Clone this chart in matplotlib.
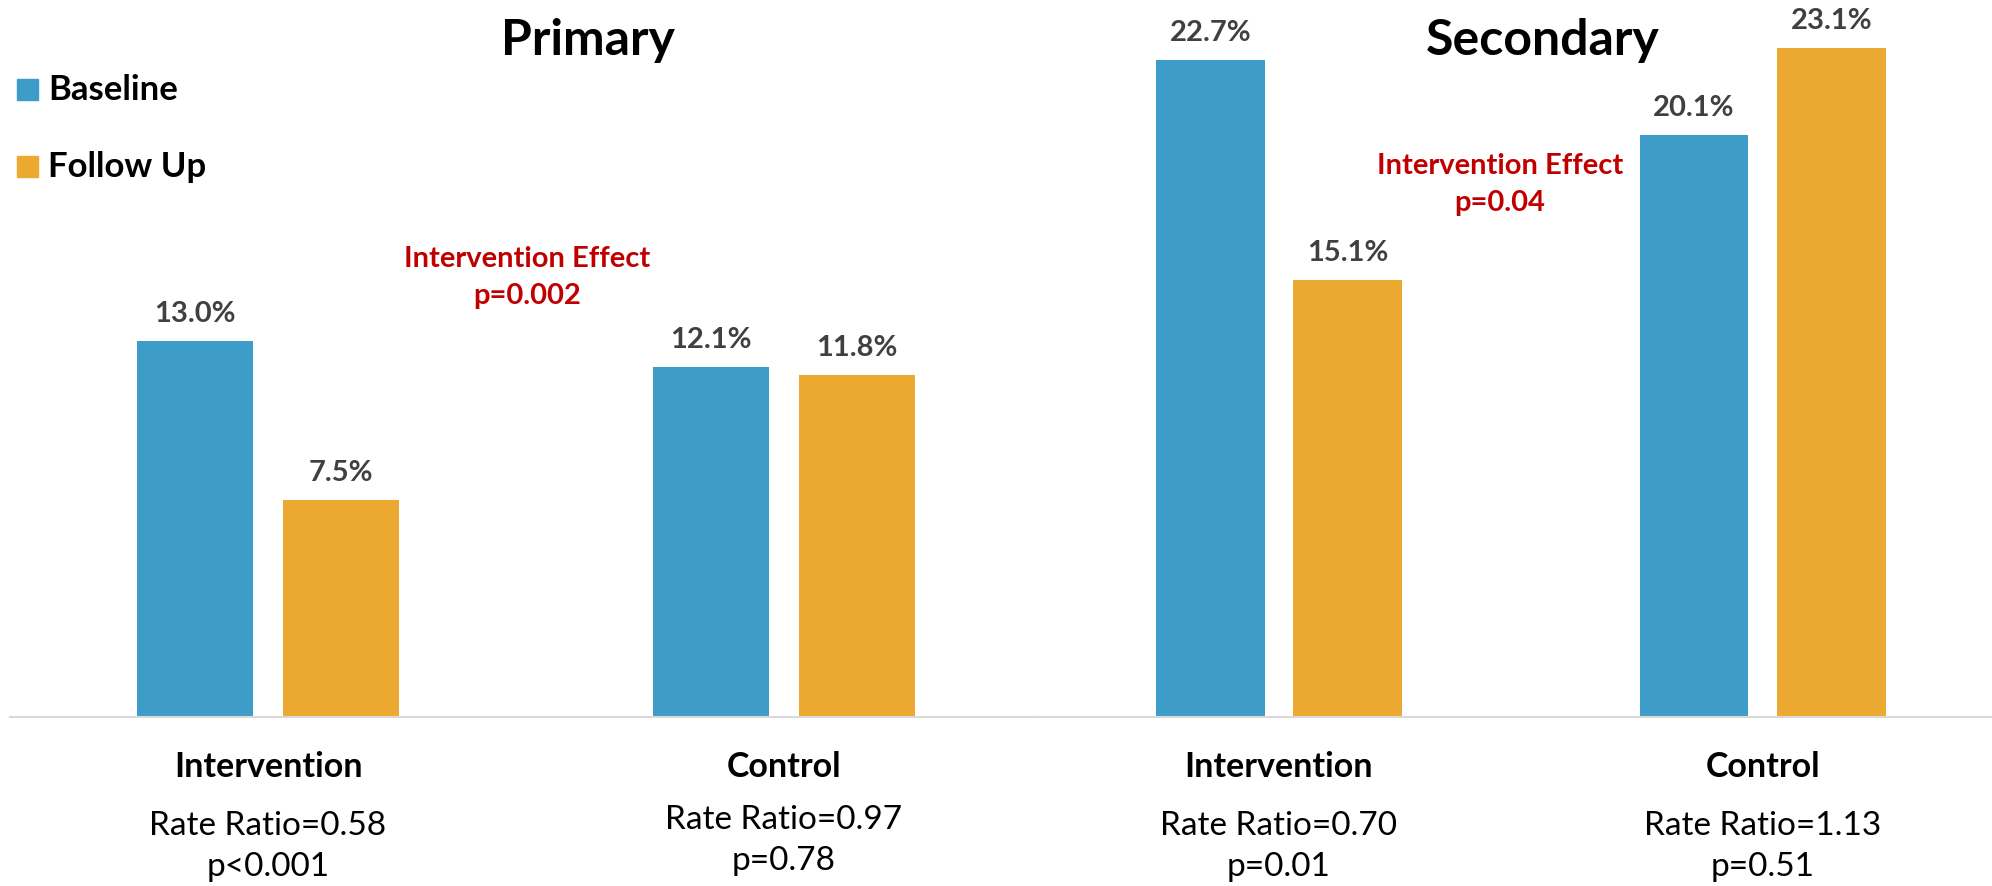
import matplotlib.pyplot as plt
import numpy as np

# --- data ---
groups = ["Intervention", "Control"]
panels = ["Primary", "Secondary"]
baseline = [[13.0, 12.1], [22.7, 20.1]]
follow_up = [[7.5, 11.8], [15.1, 23.1]]
rate_ratio = [["Rate Ratio=0.58", "Rate Ratio=0.97"], ["Rate Ratio=0.70", "Rate Ratio=1.13"]]
p_values = [["p<0.001", "p=0.78"], ["p=0.01", "p=0.51"]]
effect_text = ["Intervention Effect\np=0.002", "Intervention Effect\np=0.04"]

# --- style ---
plt.rcParams['font.family'] = ['Lato', 'DejaVu Sans']
BLUE = "#3E9DC8"
ORANGE = "#EBA932"
LABEL_C = "#404040"
RED = "#C00000"
W, H = 1992, 887

fig = plt.figure(figsize=(W / 100, H / 100), dpi=100)

def fx(px):
    return px / W

def fy(py):
    return 1 - py / H

# axes positions in pixels: (left, right, x-limit right)
ax_px = [(10, 1042, 1.5), (1037, 1992, 1.474)]
bw = 0.225
off = 0.142
y_top = 24.8

for i, (l, r, xr) in enumerate(ax_px):
    ax = fig.add_axes([fx(l), fy(718), fx(r - l), 718 / H])
    x = np.arange(len(groups))
    b1 = ax.bar(x - off, baseline[i], bw, color=BLUE)
    b2 = ax.bar(x + off, follow_up[i], bw, color=ORANGE)
    for bars in (b1, b2):
        for b in bars:
            ax.annotate(f"{b.get_height():.1f}%", (b.get_x() + b.get_width() / 2, b.get_height()),
                        xytext=(0, 14.4), textcoords="offset points", ha="center", va="baseline",
                        fontsize=21, fontweight="bold", color=LABEL_C)
    ax.set_xlim(-0.5, xr)
    ax.set_ylim(0, y_top)
    ax.set_xticks([])
    ax.set_yticks([])
    for s in ["top", "left", "right"]:
        ax.spines[s].set_visible(False)
    ax.spines["bottom"].set_color("#D9D9D9")
    ax.spines["bottom"].set_linewidth(1.5)
    ax.patch.set_alpha(0)

    # category labels under the axis
    for j, g in enumerate(groups):
        cx = ax.transData.transform((j, 0))[0] / W
        dy = 6 if (i == 0 and j == 1) else 0
        fig.text(cx, fy(777), g, ha="center", va="baseline", fontsize=24.5, fontweight="bold")
        fig.text(cx, fy(835 - dy), rate_ratio[i][j], ha="center", va="baseline", fontsize=24)
        fig.text(cx, fy(876 - dy), p_values[i][j], ha="center", va="baseline", fontsize=24)

# panel titles
fig.text(fx(588), fy(55), panels[0], ha="center", va="baseline", fontsize=36, fontweight="bold")
fig.text(fx(1543), fy(55), panels[1], ha="center", va="baseline", fontsize=36, fontweight="bold")

# intervention effect notes
for cx, yb, txt in [(527, 267, effect_text[0]), (1500, 174, effect_text[1])]:
    l1, l2 = txt.split("\n")
    fig.text(fx(cx), fy(yb), l1, ha="center", va="baseline", fontsize=21, fontweight="bold", color=RED)
    fig.text(fx(cx), fy(yb + 37), l2, ha="center", va="baseline", fontsize=21, fontweight="bold", color=RED)

# legend
for ys, yt, c, lab in [(80, 100, BLUE, "Baseline"), (157, 177, ORANGE, "Follow Up")]:
    fig.patches.append(plt.Rectangle((fx(17), fy(ys + 21)), fx(21), 21 / H, color=c,
                                     transform=fig.transFigure, figure=fig))
    fig.text(fx(48), fy(yt), lab, ha="left", va="baseline", fontsize=25, fontweight="bold")

fig.savefig("out.png", dpi=100)
